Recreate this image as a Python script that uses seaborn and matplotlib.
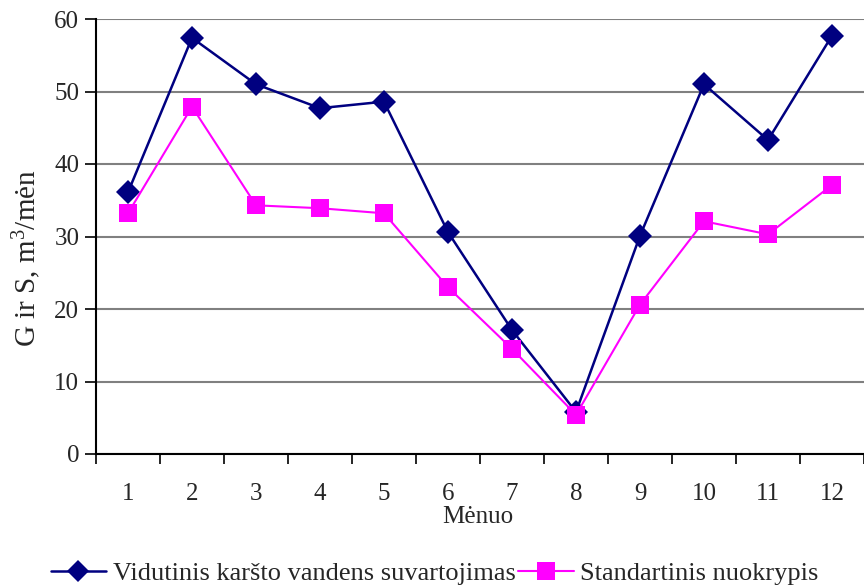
import matplotlib
matplotlib.use("Agg")
import matplotlib.pyplot as plt
import seaborn as sns
import pandas as pd
from matplotlib.ticker import FixedLocator, NullFormatter, FixedFormatter
from matplotlib.lines import Line2D

months = list(range(1, 13))
month_labels = [str(m) for m in months]
vidutinis = [36.1, 57.4, 51.0, 47.7, 48.6, 30.6, 17.1, 5.8, 30.1, 51.0, 43.3, 57.7]
standartinis = [33.2, 47.9, 34.3, 33.9, 33.2, 23.0, 14.5, 5.4, 20.6, 32.1, 30.3, 37.1]
series_names = ["Vidutinis karšto vandens suvartojimas", "Standartinis nuokrypis"]
yticks = [0, 10, 20, 30, 40, 50, 60]

sns.set_style("white")
plt.rcParams['font.family'] = ['Liberation Serif', 'DejaVu Serif']
plt.rcParams['mathtext.fontset'] = 'custom'
plt.rcParams['mathtext.rm'] = 'Liberation Serif'
plt.rcParams['mathtext.it'] = 'Liberation Serif:italic'

df = pd.DataFrame({
    "Mėnuo": months * 2,
    "val": vidutinis + standartinis,
    "series": [series_names[0]] * 12 + [series_names[1]] * 12,
})

colors = {series_names[0]: "#000080", series_names[1]: "#FF00FF"}
markers = {series_names[0]: "D", series_names[1]: "s"}
FS = 18

fig = plt.figure(figsize=(8.64, 5.88), dpi=100)
ax = fig.add_axes([96/864, (588-454)/588, 1 - 96/864, (454-19)/588])

sns.lineplot(data=df, x="Mėnuo", y="val", hue="series", style="series",
             palette=colors, markers=markers, dashes=False, ax=ax, legend=False)

for line, name in zip(ax.get_lines(), series_names):
    if name == series_names[0]:
        line.set_linewidth(1.8)
        line.set_markersize(12)
    else:
        line.set_linewidth(1.5)
        line.set_markersize(13)
    line.set_markeredgewidth(0)

ax.set_xlim(0.5, 12.5)
ax.set_ylim(0, 60)
ax.set_yticks(yticks)
ax.yaxis.grid(True, color="#808080", linewidth=1.5)
ax.set_axisbelow(True)

ax.xaxis.set_major_locator(FixedLocator([m - 0.5 for m in months] + [12.5]))
ax.xaxis.set_major_formatter(NullFormatter())
ax.xaxis.set_minor_locator(FixedLocator(months))
ax.xaxis.set_minor_formatter(FixedFormatter(month_labels))
ax.tick_params(axis="x", which="major", direction="out", length=7, width=1.2, color="black", bottom=True)
ax.tick_params(axis="x", which="minor", length=0, pad=21, labelsize=FS)
ax.tick_params(axis="y", direction="out", length=8, width=1.2, color="black", left=True, pad=4, labelsize=FS)

for s in ["top", "right"]:
    ax.spines[s].set_visible(False)
for s in ["left", "bottom"]:
    ax.spines[s].set_color("black")
    ax.spines[s].set_linewidth(1.5)

ax.set_xlabel("Mėnuo", fontsize=FS, va="center")
ax.xaxis.set_label_coords((478-96)/768, (454-517)/435)
ax.set_ylabel("G ir S, m$^3$/mėn", fontsize=21, va="center")
ax.yaxis.set_label_coords((27-96)/768, (454-258)/435)

handles = [
    Line2D([], [], color=colors[series_names[0]], marker="D", markersize=11, linewidth=1.8, markeredgewidth=0),
    Line2D([], [], color=colors[series_names[1]], marker="s", markersize=13, linewidth=1.5, markeredgewidth=0),
]
fig.legend(handles, series_names, loc="center", bbox_to_anchor=(0.503, (588-573)/588),
           ncol=2, frameon=False, fontsize=19, handlelength=2.1, columnspacing=0.1,
           handletextpad=0.25, borderaxespad=0, borderpad=0)

fig.savefig("out.png", dpi=100)
